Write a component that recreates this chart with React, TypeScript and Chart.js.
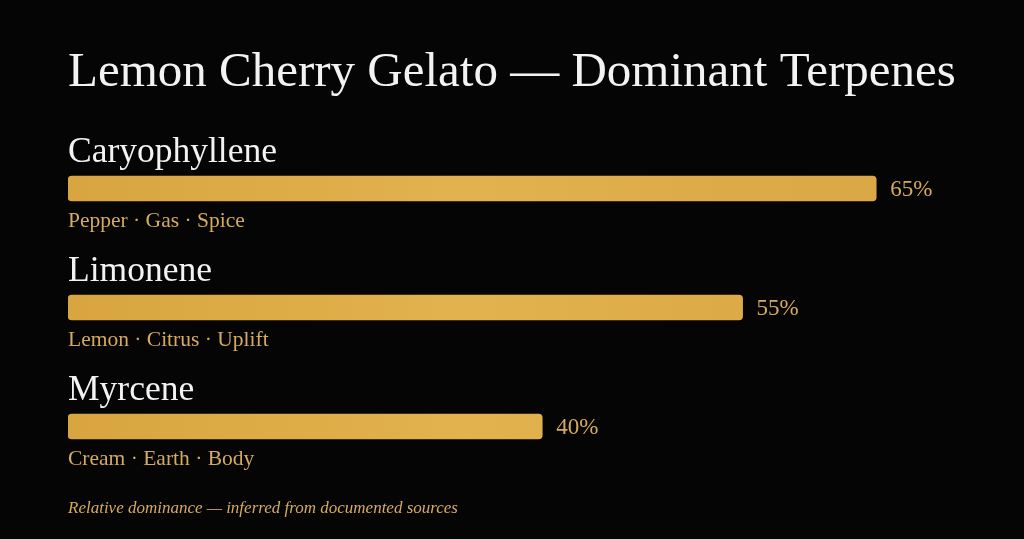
import { useEffect, useRef } from "react"
import { Chart, registerables } from "chart.js"

Chart.register(...registerables)

const terpenes = ["Caryophyllene", "Limonene", "Myrcene"]
const dominance = [65, 55, 40]
const notes = ["Pepper · Gas · Spice", "Lemon · Citrus · Uplift", "Cream · Earth · Body"]
const title = "Lemon Cherry Gelato — Dominant Terpenes"
const footnote = "Relative dominance — inferred from documented sources"

// value axis range (bars start at the left edge of the plot)
const axisStart = 4.5
const axisEnd = 70

const SERIF = '"Liberation Serif", "Times New Roman", serif'
const GOLD_TEXT = "#d6aa60"

// draws the title, names, notes, value labels and footnote around the bars
const labelsPlugin = {
  id: "terpeneLabels",
  afterDatasetsDraw(chart: Chart) {
    const { ctx, chartArea } = chart
    const meta = chart.getDatasetMeta(0)
    ctx.save()
    ctx.textAlign = "left"
    ctx.textBaseline = "alphabetic"

    ctx.fillStyle = "#f3f3f3"
    ctx.font = `49px ${SERIF}`
    ctx.fillText(title, chartArea.left, chartArea.top - 43)

    meta.data.forEach((bar: any, i: number) => {
      const top = bar.y - bar.height / 2
      const bottom = bar.y + bar.height / 2

      ctx.fillStyle = "#f3f3f3"
      ctx.font = `35.5px ${SERIF}`
      ctx.textBaseline = "alphabetic"
      ctx.fillText(terpenes[i], chartArea.left, top - 14)

      ctx.fillStyle = GOLD_TEXT
      ctx.font = `21.5px ${SERIF}`
      ctx.fillText(notes[i], chartArea.left, bottom + 26)

      ctx.font = `23px ${SERIF}`
      ctx.textBaseline = "middle"
      ctx.fillText(`${dominance[i]}%`, bar.x + 14, bar.y + 1)
    })

    ctx.textBaseline = "alphabetic"
    ctx.fillStyle = GOLD_TEXT
    ctx.font = `italic 17px ${SERIF}`
    ctx.fillText(footnote, chartArea.left, chartArea.bottom + 27)
    ctx.restore()
  },
}

export default function App() {
  const chartRef = useRef<HTMLCanvasElement>(null)
  const chartInstance = useRef<Chart | null>(null)

  useEffect(() => {
    document.body.style.margin = "0"
    document.body.style.background = "#050505"
    if (!chartRef.current) return

    if (chartInstance.current) {
      chartInstance.current.destroy()
    }

    const ctx = chartRef.current.getContext("2d")
    if (!ctx) return

    chartInstance.current = new Chart(ctx, {
      type: "bar",
      data: {
        labels: terpenes,
        datasets: [
          {
            label: "Dominance",
            data: dominance,
            base: axisStart,
            backgroundColor: (c: any) => {
              const area = c.chart.chartArea
              if (!area) return "#dcaa48"
              const g = c.chart.ctx.createLinearGradient(area.left, 0, area.right, 0)
              g.addColorStop(0, "#d8a540")
              g.addColorStop(0.45, "#e2b24e")
              g.addColorStop(1, "#d8a644")
              return g
            },
            borderRadius: 4,
            borderSkipped: false,
            barThickness: 25,
          },
        ],
      },
      options: {
        indexAxis: "y",
        animation: false,
        responsive: true,
        maintainAspectRatio: false,
        layout: {
          padding: { top: 129, bottom: 53, left: 68, right: 81 },
        },
        plugins: {
          legend: { display: false },
          tooltip: { enabled: false },
        },
        scales: {
          x: {
            display: false,
            min: axisStart,
            max: axisEnd,
          },
          y: {
            display: false,
          },
        },
      },
      plugins: [labelsPlugin],
    })

    return () => {
      if (chartInstance.current) {
        chartInstance.current.destroy()
      }
    }
  }, [])

  return (
    <div style={{ width: 1024, height: 539, background: "#050505", position: "relative" }}>
      <canvas ref={chartRef} />
    </div>
  )
}
